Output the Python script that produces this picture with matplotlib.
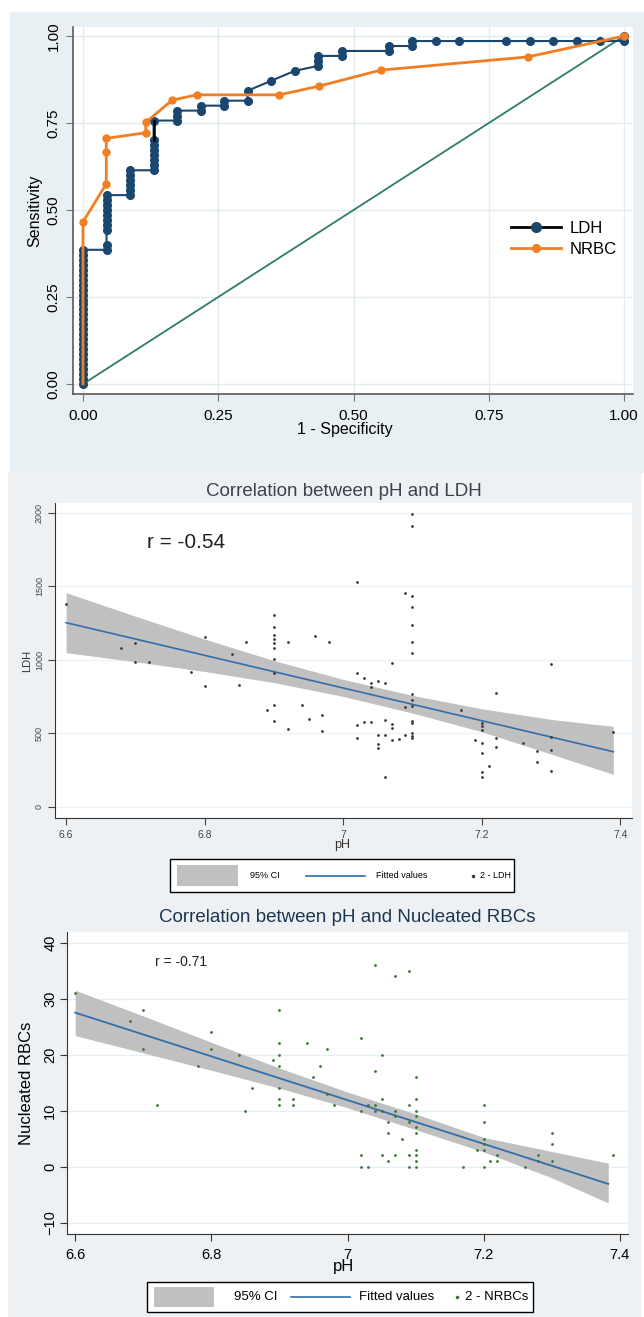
import matplotlib.pyplot as plt
from matplotlib.patches import Rectangle
from matplotlib.lines import Line2D

plt.rcParams['font.family'] = ['Liberation Sans', 'DejaVu Sans']

W, H = 644, 1317

# ROC curves ____________________________________________________________________
# LDH: false / true positive counts at each cut-off (23 negatives, 70 positives)
n_neg = 23
n_pos = 70
ldh_fp = [0, 0, 0, 0, 0, 0, 0, 0, 0, 0, 0, 0, 0, 0, 0, 0, 0, 0, 0, 0, 0, 0, 0, 0, 0, 0, 0, 0,
          1, 1, 1, 1, 1, 1, 1, 1, 1, 1,
          2, 2, 2, 2, 2, 2,
          3, 3, 3, 3, 3, 3, 3, 3,
          4, 4, 4,
          5, 5,
          6, 6,
          7, 7,
          8,
          9,
          10, 10, 10,
          11, 11,
          13, 13,
          14, 14,
          15, 16, 18, 19, 20, 21, 22,
          23, 23]
ldh_tp = [0, 1, 2, 3, 4, 5, 6, 7, 8, 9, 10, 11, 12, 13, 14, 15, 16, 17, 18, 19, 20, 21, 22, 23, 24, 25, 26, 27,
          27, 28, 31, 32, 33, 34, 35, 36, 37, 38,
          38, 39, 40, 41, 42, 43,
          43, 44, 45, 46, 47, 48, 49, 53,
          53, 54, 55,
          55, 56,
          56, 57,
          57, 59,
          61,
          63,
          64, 65, 66,
          66, 67,
          67, 68,
          68, 69,
          69, 69, 69, 69, 69, 69, 69,
          69, 70]

nrbc_fpr = [0.0, 0.0, 0.043, 0.043, 0.043, 0.116, 0.116, 0.165, 0.21, 0.363, 0.436, 0.55, 0.822, 1.0]
nrbc_tpr = [0.0, 0.466, 0.575, 0.667, 0.706, 0.722, 0.752, 0.816, 0.831, 0.831, 0.856, 0.902, 0.94, 1.0]

# pH vs LDH _____________________________________________________________________
ph_a = [6.60, 6.68, 6.70, 6.70, 6.72, 6.78, 6.80, 6.80, 6.84, 6.85, 6.86, 6.89, 6.90, 6.90, 6.90, 6.90,
        6.90, 6.90, 6.90, 6.90, 6.90, 6.90, 6.92, 6.92, 6.94, 6.95, 6.96, 6.97, 6.97, 6.98, 7.02, 7.02,
        7.02, 7.02, 7.03, 7.03, 7.04, 7.04, 7.04, 7.05, 7.05, 7.05, 7.05, 7.06, 7.06, 7.06, 7.06, 7.07,
        7.07, 7.07, 7.07, 7.08, 7.09, 7.09, 7.09, 7.10, 7.10, 7.10, 7.10, 7.10, 7.10, 7.10, 7.10, 7.10,
        7.10, 7.10, 7.10, 7.10, 7.10, 7.10, 7.17, 7.19, 7.20, 7.20, 7.20, 7.20, 7.20, 7.20, 7.20, 7.21,
        7.22, 7.22, 7.22, 7.26, 7.28, 7.28, 7.30, 7.30, 7.30, 7.30, 7.39]
ldh = [1380, 1084, 1113, 989, 989, 916, 1154, 823, 1039, 830, 1122, 660, 1306, 1227, 1170, 1141,
       1113, 1079, 1007, 912, 694, 587, 1122, 531, 694, 597, 1165, 624, 519, 1122, 1533, 910,
       558, 467, 876, 578, 841, 818, 578, 857, 490, 429, 399, 841, 592, 490, 202, 982,
       565, 535, 456, 463, 1458, 678, 490, 1991, 1914, 1437, 1358, 1240, 1122, 1050, 769, 728,
       687, 587, 569, 501, 483, 467, 660, 456, 573, 551, 524, 437, 369, 240, 206, 279,
       778, 467, 406, 433, 381, 308, 971, 474, 388, 247, 512]
ldh_fit_x = [6.6, 7.39]
ldh_fit_y = [1254, 376]
ldh_ci_x = [6.6, 6.7, 6.8, 6.9, 7.0, 7.1, 7.2, 7.3, 7.39]
ldh_ci_lo = [1050, 988, 922, 846, 752, 639, 512, 360, 222]
ldh_ci_hi = [1458, 1298, 1142, 996, 868, 759, 668, 596, 548]

# pH vs nucleated RBCs __________________________________________________________
ph_b = [6.60, 6.68, 6.70, 6.70, 6.72, 6.78, 6.80, 6.80, 6.84, 6.85, 6.86, 6.89, 6.90, 6.90, 6.90, 6.90,
        6.90, 6.90, 6.90, 6.92, 6.92, 6.94, 6.95, 6.96, 6.97, 6.97, 6.98, 7.02, 7.02, 7.02, 7.02, 7.03,
        7.03, 7.04, 7.04, 7.04, 7.04, 7.05, 7.05, 7.05, 7.05, 7.06, 7.06, 7.06, 7.07, 7.07, 7.07, 7.07,
        7.08, 7.09, 7.09, 7.09, 7.09, 7.09, 7.10, 7.10, 7.10, 7.10, 7.10, 7.10, 7.10, 7.10, 7.10, 7.10,
        7.17, 7.19, 7.20, 7.20, 7.20, 7.20, 7.20, 7.20, 7.21, 7.22, 7.22, 7.26, 7.28, 7.28, 7.30, 7.30,
        7.30, 7.39]
nrbcs = [31, 26, 28, 21, 11, 18, 24, 21, 20, 10, 14, 19, 28, 22, 20, 18,
         14, 12, 11, 12, 11, 22, 16, 18, 21, 13, 11, 23, 10, 2, 0, 11,
         0, 36, 17, 11, 10, 20, 12, 10, 2, 8, 6, 1, 34, 10, 9, 2,
         5, 35, 11, 8, 2, 0, 16, 12, 10, 9, 7, 6, 3, 2, 1, 0,
         0, 3, 11, 8, 5, 4, 3, 0, 1, 2, 1, 0, 2, 1, 6, 4,
         1, 2]
nrbc_fit_x = [6.6, 7.383]
nrbc_fit_y = [27.5, -3.1]
nrbc_ci_x = [6.6, 6.7, 6.8, 6.9, 7.0, 7.1, 7.2, 7.3, 7.383]
nrbc_ci_lo = [23.4, 20.3, 17.2, 14.0, 10.5, 6.6, 2.6, -2.0, -6.5]
nrbc_ci_hi = [31.5, 26.9, 22.2, 17.6, 13.3, 9.4, 5.2, 2.7, 0.6]

legend_labels_a = ['95% CI', 'Fitted values', '2 - LDH']
legend_labels_b = ['95% CI', 'Fitted values', '2 - NRBCs']

navy = '#1a476f'
orange = '#f07f23'
teal = '#2e7b6b'
fit_blue = '#2f6ea8'
ci_grey = '#c0c0c0'


def box(x0, y0, x1, y1):
    # pixel box (from top left) -> figure fraction [left, bottom, width, height]
    return [x0 / W, 1 - y1 / H, (x1 - x0) / W, (y1 - y0) / H]


def stata_legend(frame, patch, line, dot, text_x, labels, fs, dot_col):
    # Stata-like legend row drawn in figure pixels
    l, b, w, h = box(*frame)
    fig.add_artist(Rectangle((l, b), w, h, transform=fig.transFigure, facecolor='white',
                             edgecolor='black', lw=1, zorder=5))
    l, b, w, h = box(*patch)
    fig.add_artist(Rectangle((l, b), w, h, transform=fig.transFigure, facecolor=ci_grey,
                             lw=0, zorder=6))
    yc = 1 - (frame[1] + frame[3]) / 2 / H
    fig.add_artist(Line2D([line[0] / W, line[1] / W], [yc, yc], transform=fig.transFigure,
                          color=fit_blue, lw=1.2, zorder=6))
    fig.add_artist(Line2D([dot / W], [yc], transform=fig.transFigure, ls='none', marker='.',
                          ms=3, color=dot_col, zorder=6))
    for x, lab in zip(text_x, labels):
        fig.text(x / W, yc, lab, fontsize=fs, va='center', ha='left', zorder=7)


fig = plt.figure(figsize=(W / 100, H / 100), dpi=100)

# panel backgrounds
for (x0, y0, x1, y1), col in [((10, 12, 644, 472), '#e8f0f3'), ((8, 472, 640, 1317), '#eef1f3')]:
    l, b, w, h = box(x0, y0, x1, y1)
    fig.add_artist(Rectangle((l, b), w, h, transform=fig.transFigure, color=col, zorder=-5))

# TOP: ROC ______________________________________________________________________
ax1 = fig.add_axes(box(73, 27, 633, 394))
ldh_x = [f / n_neg for f in ldh_fp]
ldh_y = [t / n_pos for t in ldh_tp]
ax1.plot([0, 1], [0, 1], color=teal, lw=1.3, zorder=2)
ax1.plot(ldh_x, ldh_y, color=navy, lw=1.5, marker='o', ms=5.5, zorder=3)
i = ldh_tp.index(49)
ax1.plot([ldh_x[i], ldh_x[i + 1]], [ldh_y[i], ldh_y[i + 1]], color='black', lw=1.8, zorder=3)
ax1.plot(nrbc_fpr, nrbc_tpr, color=orange, lw=2, marker='o', ms=5,
         markevery=list(range(1, len(nrbc_fpr))), zorder=4)
ax1.set_xlim(-0.0185, 1.0166)
ax1.set_ylim(-0.0287, 1.026)
ticks = [0, 0.25, 0.5, 0.75, 1]
ax1.set_xticks(ticks)
ax1.set_yticks(ticks)
ax1.set_xticklabels(['%.2f' % t for t in ticks])
ax1.set_yticklabels(['%.2f' % t for t in ticks])
ax1.grid(True, color='#e2ecef', lw=1)
ax1.set_axisbelow(True)
ax1.tick_params(direction='out', length=5, color='#777777', labelsize=11)
ax1.tick_params(axis='x', pad=6)
ax1.tick_params(axis='y', labelrotation=90, pad=4)
for yl in ax1.get_yticklabels():
    yl.set_va('center')
for s in ['top', 'right']:
    ax1.spines[s].set_visible(False)
for s in ['left', 'bottom']:
    ax1.spines[s].set_color('#5a5a5a')
    ax1.spines[s].set_linewidth(1.2)
ax1.set_xlabel('1 - Specificity', fontsize=11.5, va='center')
ax1.xaxis.set_label_coords((345 - 73) / 560, (394 - 429) / 367)
ax1.set_ylabel('Sensitivity', fontsize=11.5, va='center')
ax1.yaxis.set_label_coords((35 - 73) / 560, 0.5)
handles = [Line2D([], [], color='black', lw=2, marker='o', mfc=navy, mec=navy, ms=7),
           Line2D([], [], color=orange, lw=2, marker='o', ms=5.5)]
ax1.legend(handles, ['LDH', 'NRBC'], loc='center left', bbox_to_anchor=(511 / W, 1 - 239 / H),
           bbox_transform=fig.transFigure, frameon=False, fontsize=12, handlelength=3.0,
           handletextpad=0.5, labelspacing=0.38, borderpad=0, borderaxespad=0)

# MIDDLE: pH vs LDH _____________________________________________________________
ax2 = fig.add_axes(box(55, 503, 632, 818))
ax2.fill_between(ldh_ci_x, ldh_ci_lo, ldh_ci_hi, color=ci_grey, lw=0, zorder=1)
ax2.plot(ldh_fit_x, ldh_fit_y, color=fit_blue, lw=1.2, zorder=2)
ax2.scatter(ph_a, ldh, s=4, color='#3a3a3a', lw=0, zorder=3)
ax2.set_xlim(6.584, 7.417)
ax2.set_ylim(-75, 2068)
ax2.set_xticks([6.6, 6.8, 7.0, 7.2, 7.4])
ax2.set_xticklabels(['6.6', '6.8', '7', '7.2', '7.4'])
ax2.set_yticks([0, 500, 1000, 1500, 2000])
ax2.grid(True, axis='y', color='#eef2f4', lw=1)
ax2.set_axisbelow(True)
ax2.tick_params(direction='out', length=5, color='#444444', labelcolor='#444444')
ax2.tick_params(axis='x', labelsize=7.5, pad=4)
ax2.tick_params(axis='y', labelsize=6.5, labelrotation=90, pad=3)
for yl in ax2.get_yticklabels():
    yl.set_va('center')
for s in ['top', 'right']:
    ax2.spines[s].set_visible(False)
for s in ['left', 'bottom']:
    ax2.spines[s].set_color('#333333')
ax2.set_xlabel('pH', fontsize=9, va='center', color='#333333')
ax2.xaxis.set_label_coords((342 - 55) / 577, (818 - 845) / 315)
ax2.set_ylabel('LDH', fontsize=8, va='center', color='#333333')
ax2.yaxis.set_label_coords((27 - 55) / 577, 0.5)
ax2.set_title('Correlation between pH and LDH', fontsize=13.5, color='#3b4350',
              y=(818 - 492) / 315, va='center', pad=0)
ax2.text(6.717, 1796, 'r = -0.54', fontsize=15, va='center', color='#222222')
stata_legend((170, 859, 514, 892), (177, 865, 238, 886), (306, 365), 473,
             [250, 376, 480], legend_labels_a, 6.5, '#3a3a3a')

# BOTTOM: pH vs nucleated RBCs __________________________________________________
ax3 = fig.add_axes(box(67, 932, 628, 1234))
ax3.fill_between(nrbc_ci_x, nrbc_ci_lo, nrbc_ci_hi, color=ci_grey, lw=0, zorder=1)
ax3.plot(nrbc_fit_x, nrbc_fit_y, color=fit_blue, lw=1.3, zorder=2)
ax3.scatter(ph_b, nrbcs, s=4, color='#3a7530', lw=0, zorder=3)
ax3.set_xlim(6.588, 7.412)
ax3.set_ylim(-12.05, 41.9)
ax3.set_xticks([6.6, 6.8, 7.0, 7.2, 7.4])
ax3.set_xticklabels(['6.6', '6.8', '7', '7.2', '7.4'])
ax3.set_yticks([-10, 0, 10, 20, 30, 40])
ax3.grid(True, axis='y', color='#e8eef2', lw=1)
ax3.set_axisbelow(True)
ax3.tick_params(direction='out', length=5, color='#333333', labelsize=10.5)
ax3.tick_params(axis='x', pad=5)
ax3.tick_params(axis='y', labelrotation=90, pad=2)
for yl in ax3.get_yticklabels():
    yl.set_va('center')
for s in ['top', 'right']:
    ax3.spines[s].set_visible(False)
for s in ['left', 'bottom']:
    ax3.spines[s].set_color('#333333')
ax3.set_xlabel('pH', fontsize=12, va='center')
ax3.xaxis.set_label_coords((344 - 67) / 561, (1234 - 1267) / 302)
ax3.set_ylabel('Nucleated RBCs', fontsize=12, va='center')
ax3.yaxis.set_label_coords((27 - 67) / 561, 0.5)
ax3.set_title('Correlation between pH and Nucleated RBCs', fontsize=13.5, color='#1e3550',
              y=(1234 - 918) / 302, va='center', pad=0)
ax3.text(6.717, 36.6, 'r = -0.71', fontsize=10, va='center', color='#222222')
stata_legend((147, 1282, 533, 1312), (154, 1287, 214, 1307), (291, 350), 457,
             [234, 359, 465], legend_labels_b, 9.5, '#3a7530')

fig.savefig('out.png', dpi=100)
